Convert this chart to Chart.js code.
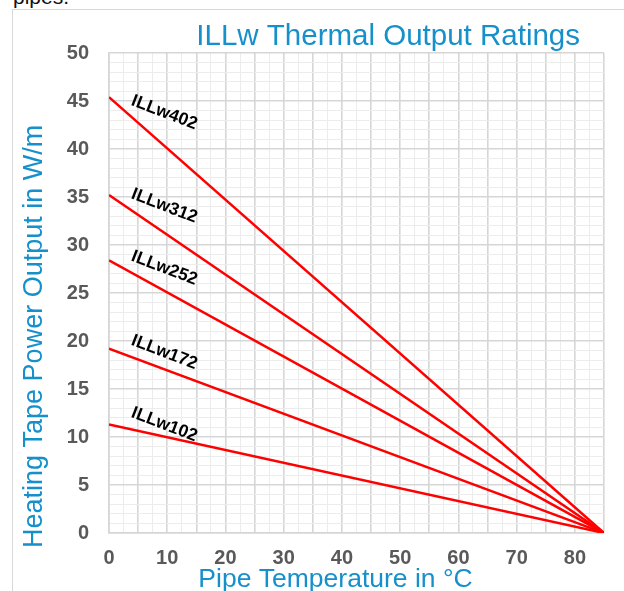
<!DOCTYPE html>
<html>
<head>
<meta charset="utf-8">
<title>ILLw Thermal Output Ratings</title>
<script src="https://cdn.jsdelivr.net/npm/chart.js@4.4.1/dist/chart.umd.min.js"></script>
<style>
    html, body { margin: 0; padding: 0; background: #fff; overflow: hidden; }
    body { width: 624px; height: 591px; position: relative; font-family: "Liberation Sans", Arial, sans-serif; }
    #above { position: absolute; left: 13px; top: -15px; font-size: 21px; color: #111; }
    #frame { position: absolute; left: 12px; top: 9px; width: 611px; height: 581px;
             border-left: 1px solid #d9d9d9; border-top: 1px solid #d9d9d9; background: #fff; }
    #chartBox { position: relative; width: 611px; height: 581px; }
</style>
</head>
<body>
<div id="above">pipes.</div>
<div id="frame">
    <div id="chartBox"><canvas id="ratingsChart"></canvas></div>
</div>
<script>
// Data
const temperatures = [0, 85];            // pipe temperature, °C
const seriesNames = ['ILLw402', 'ILLw312', 'ILLw252', 'ILLw172', 'ILLw102'];
const illw402 = [45.4, 0];
const illw312 = [35.2, 0];
const illw252 = [28.4, 0];
const illw172 = [19.2, 0];
const illw102 = [11.3, 0];
const seriesValues = [illw402, illw312, illw252, illw172, illw102];

const xTickLabels = [0, 10, 20, 30, 40, 50, 60, 70, 80];
const yTickLabels = [0, 5, 10, 15, 20, 25, 30, 35, 40, 45, 50];

const chartTitle = 'ILLw Thermal Output Ratings';
const yTitle = 'Heating Tape Power Output in W/m';
const xTitle = 'Pipe Temperature in \u00B0C';

const blue = '#1690cb';
const tickGrey = '#595959';
const majorGrid = '#d6d6d6';
const minorGrid = '#ececec';

const datasets = seriesNames.map((name, i) => ({
    label: name,
    data: temperatures.map((t, j) => ({ x: t, y: seriesValues[i][j] })),
    borderColor: '#ff0000',
    borderWidth: 2.5,
    pointRadius: 0,
    fill: false
}));

// grid colour: darker every 5 units, light in between
function gridColor(ctx) {
    if (!ctx.tick) return majorGrid;
    return Math.abs(ctx.tick.value % 5) < 1e-6 ? majorGrid : minorGrid;
}
function gridWidth(ctx) {
    if (!ctx.tick) return 1.5;
    return Math.abs(ctx.tick.value % 5) < 1e-6 ? 1.6 : 1;
}

// titles and series labels drawn on the canvas
const textPlugin = {
    id: 'textPlugin',
    afterDraw(chart) {
        const c = chart.ctx;
        const area = chart.chartArea;
        const xs = chart.scales.x;
        const ys = chart.scales.y;
        c.save();
        c.fillStyle = blue;
        c.font = '29.5px "Liberation Sans", Arial, sans-serif';
        c.textAlign = 'right';
        c.textBaseline = 'middle';
        c.fillText(chartTitle, area.right - 24, 27);

        c.font = '26.5px "Liberation Sans", Arial, sans-serif';
        c.textAlign = 'center';
        c.fillText(xTitle, (area.left + area.right) / 2 - 21, area.bottom + 47);

        c.save();
        c.font = '27px "Liberation Sans", Arial, sans-serif';
        c.translate(22, area.bottom + 15);
        c.rotate(-Math.PI / 2);
        c.textAlign = 'left';
        c.fillText(yTitle, 0, 0);
        c.restore();

        // series name labels
        c.fillStyle = '#000';
        c.font = 'bold 17.5px "Liberation Sans", Arial, sans-serif';
        c.textAlign = 'center';
        seriesNames.forEach((name, i) => {
            const v0 = seriesValues[i][0];
            const v1 = seriesValues[i][1];
            const t0 = temperatures[0], t1 = temperatures[1];
            const at = 4;
            const yv = v0 + (v1 - v0) * (at - t0) / (t1 - t0);
            c.save();
            c.translate(xs.getPixelForValue(9.5), ys.getPixelForValue(yv) - 5);
            c.rotate(21 * Math.PI / 180);
            c.fillText(name, 0, 0);
            c.restore();
        });
        c.restore();
    }
};

const ctx = document.getElementById('ratingsChart').getContext('2d');
const chart = new Chart(ctx, {
    type: 'line',
    data: { datasets: datasets },
    options: {
        responsive: true,
        maintainAspectRatio: false,
        animation: false,
        layout: { padding: { top: 43, right: 20, left: 0, bottom: 0 } },
        plugins: {
            legend: { display: false },
            tooltip: { enabled: false },
            title: { display: false }
        },
        scales: {
            x: {
                type: 'linear',
                min: 0,
                max: 85,
                grid: { color: gridColor, lineWidth: gridWidth, drawTicks: false },
                border: { color: majorGrid, width: 1.6 },
                ticks: {
                    stepSize: 2.5,
                    maxTicksLimit: 100,
                    autoSkip: false,
                    maxRotation: 0,
                    padding: 13,
                    color: tickGrey,
                    font: { family: '"Liberation Sans", Arial, sans-serif', size: 20, weight: 'bold' },
                    callback: (value) => xTickLabels.includes(value) ? String(value) : ''
                },
                afterFit: (scale) => { scale.height = 58; }
            },
            y: {
                min: 0,
                max: 50,
                grid: { color: gridColor, lineWidth: gridWidth, drawTicks: false },
                border: { color: majorGrid, width: 1.6 },
                ticks: {
                    stepSize: 1,
                    maxTicksLimit: 100,
                    autoSkip: false,
                    padding: 20,
                    color: tickGrey,
                    font: { family: '"Liberation Sans", Arial, sans-serif', size: 20, weight: 'bold' },
                    callback: (value) => yTickLabels.includes(value) ? String(value) : ''
                },
                afterFit: (scale) => { scale.width = 96; }
            }
        }
    },
    plugins: [textPlugin]
});
</script>
</body>
</html>
